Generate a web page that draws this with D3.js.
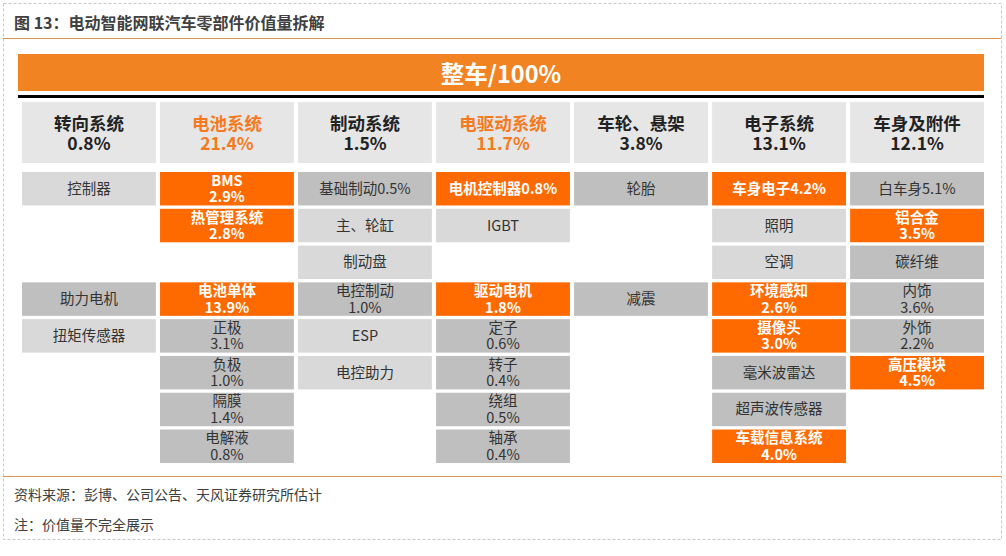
<!DOCTYPE html>
<html><head><meta charset="utf-8">
<script src="https://cdn.jsdelivr.net/npm/d3@7"></script>
<style>html,body{margin:0;padding:0;background:#fff}svg{display:block}text{font-family:"Noto Sans CJK SC","Microsoft YaHei",sans-serif}</style>
</head><body><svg id="c" width="1006" height="556"></svg>
<script>
// ---- data ----
const title = "图 13：电动智能网联汽车零部件价值量拆解";
const total = "整车/100%";
const systems = ["转向系统","电池系统","制动系统","电驱动系统","车轮、悬架","电子系统","车身及附件"];
const systemShares = ["0.8%","21.4%","1.5%","11.7%","3.8%","13.1%","12.1%"];
const systemKey = [false,true,false,true,false,false,false];
// each column: 8 slots, [label, tone] ; tone k = key (orange), m = main (dark gray), s = secondary (light gray)
const partsSteering = [["控制器","s"],null,null,["助力电机","m"],["扭矩传感器","s"],null,null,null];
const partsBattery  = [["BMS\n2.9%","k"],["热管理系统\n2.8%","k"],null,["电池单体\n13.9%","k"],["正极\n3.1%","m"],["负极\n1.0%","m"],["隔膜\n1.4%","m"],["电解液\n0.8%","m"]];
const partsBrake    = [["基础制动0.5%","m"],["主、轮缸","s"],["制动盘","s"],["电控制动\n1.0%","m"],["ESP","s"],["电控助力","s"],null,null];
const partsDrive    = [["电机控制器0.8%","k"],["IGBT","s"],null,["驱动电机\n1.8%","k"],["定子\n0.6%","m"],["转子\n0.4%","m"],["绕组\n0.5%","m"],["轴承\n0.4%","m"]];
const partsWheel    = [["轮胎","m"],null,null,["减震","m"],null,null,null,null];
const partsElec     = [["车身电子4.2%","k"],["照明","s"],["空调","s"],["环境感知\n2.6%","k"],["摄像头\n3.0%","k"],["毫米波雷达","m"],["超声波传感器","m"],["车载信息系统\n4.0%","k"]];
const partsBody     = [["白车身5.1%","m"],["铝合金\n3.5%","k"],["碳纤维","m"],["内饰\n3.6%","m"],["外饰\n2.2%","m"],["高压模块\n4.5%","k"],null,null];
const columns = [partsSteering,partsBattery,partsBrake,partsDrive,partsWheel,partsElec,partsBody];
const source = "资料来源：彭博、公司公告、天风证券研究所估计";
const note = "注：价值量不完全展示";

// ---- drawing ----
const svg = d3.select("#c");
const fill = {k:"#FF6A00", m:"#BFBFBF", s:"#D9D9D9"};
const txt  = {k:"#FFFFFF", m:"#333333", s:"#333333"};

svg.append("rect").attr("x",3.5).attr("y",3.5).attr("width",998).attr("height",536)
  .attr("fill","none").attr("stroke","#c8c8c8").attr("stroke-dasharray","3,2");
svg.append("text").attr("x",14).attr("y",22).attr("dominant-baseline","central")
  .attr("font-size",16).attr("font-weight","bold").attr("fill","#404040").text(title);
svg.append("line").attr("x1",3).attr("x2",1001).attr("y1",38.5).attr("y2",38.5).attr("stroke","#E09050").attr("stroke-width",1.2);
svg.append("line").attr("x1",3).attr("x2",1001).attr("y1",476.5).attr("y2",476.5).attr("stroke","#E09050").attr("stroke-width",1.2);
svg.append("text").attr("x",14).attr("y",494).attr("dominant-baseline","central")
  .attr("font-size",14).attr("fill","#404040").text(source);
svg.append("text").attr("x",14).attr("y",524).attr("dominant-baseline","central")
  .attr("font-size",14).attr("fill","#404040").text(note);

// banner
svg.append("rect").attr("x",18).attr("y",54).attr("width",966).attr("height",37).attr("fill","#F28322");
svg.append("text").attr("x",501).attr("y",73).attr("text-anchor","middle").attr("dominant-baseline","central")
  .attr("font-size",23.5).attr("font-weight","bold").attr("fill","#fff").text(total);
svg.append("rect").attr("x",18).attr("y",95).attr("width",966).attr("height",3).attr("fill","#000");

const x = d3.scaleBand().domain(systems).range([22,984]).paddingInner(0.03);
const y = d3.scaleBand().domain(d3.range(8)).range([172,463]).paddingInner(0.09);

// headers
const hg = svg.selectAll("g.h").data(systems).join("g").attr("class","h");
hg.append("rect").attr("x",d=>x(d)).attr("y",102).attr("width",x.bandwidth()).attr("height",61).attr("fill","#E6E6E6");
const ht = hg.append("text").attr("text-anchor","middle")
  .attr("font-size",17.5).attr("font-weight","bold").attr("fill",(d,i)=>systemKey[i]?"#F47A20":"#222");
ht.append("tspan").attr("x",d=>x(d)+x.bandwidth()/2).attr("y",130).text(d=>d);
ht.append("tspan").attr("x",d=>x(d)+x.bandwidth()/2).attr("y",150).text((d,i)=>systemShares[i]);

// cells
const cells = [];
columns.forEach((col,ci)=>col.forEach((p,ri)=>{ if(p) cells.push({sys:systems[ci],row:ri,label:p[0],tone:p[1]}); }));
const cg = svg.selectAll("g.c").data(cells).join("g").attr("class","c");
cg.append("rect").attr("x",d=>x(d.sys)).attr("y",d=>y(d.row)).attr("width",x.bandwidth()).attr("height",y.bandwidth())
  .attr("fill",d=>fill[d.tone]);
cg.each(function(d){
  const lines = d.label.split("\n");
  const cx = x(d.sys)+x.bandwidth()/2, cy = y(d.row)+y.bandwidth()/2;
  const t = d3.select(this).append("text").attr("text-anchor","middle")
    .attr("font-size",14.5).attr("font-weight",d.tone==="k"?"bold":"normal").attr("fill",txt[d.tone]);
  lines.forEach((s,i)=>{
    const off = lines.length===1?0:(i===0?-8:8.5);
    t.append("tspan").attr("x",cx).attr("y",cy+off+5).text(s);
  });
});
</script></body></html>
